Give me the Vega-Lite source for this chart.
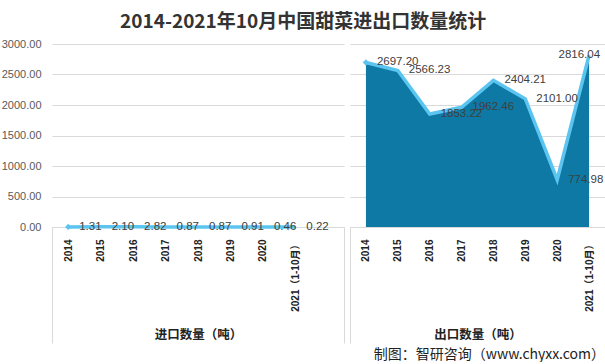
{
  "$schema": "https://vega.github.io/schema/vega-lite/v6.json",
  "background": "white",
  "padding": {"left": 1, "top": 13, "right": 0, "bottom": 0},
  "title": {
    "text": "2014-2021年10月中国甜菜进出口数量统计",
    "font": "Noto Sans CJK SC",
    "fontSize": 19,
    "fontWeight": "bold",
    "color": "#333333",
    "anchor": "middle",
    "offset": 6
  },
  "config": {
    "view": {"stroke": null},
    "concat": {"spacing": 0},
    "font": "Liberation Sans"
  },
  "data": {
    "values": [
      {"group": "进口", "year": "2014", "value": 1.31},
      {"group": "进口", "year": "2015", "value": 2.10},
      {"group": "进口", "year": "2016", "value": 2.82},
      {"group": "进口", "year": "2017", "value": 0.87},
      {"group": "进口", "year": "2018", "value": 0.87},
      {"group": "进口", "year": "2019", "value": 0.91},
      {"group": "进口", "year": "2020", "value": 0.46},
      {"group": "进口", "year": "2021（1-10月）", "value": 0.22},
      {"group": "出口", "year": "2014", "value": 2697.20},
      {"group": "出口", "year": "2015", "value": 2566.23},
      {"group": "出口", "year": "2016", "value": 1853.22},
      {"group": "出口", "year": "2017", "value": 1962.46},
      {"group": "出口", "year": "2018", "value": 2404.21},
      {"group": "出口", "year": "2019", "value": 2101.00},
      {"group": "出口", "year": "2020", "value": 774.98},
      {"group": "出口", "year": "2021（1-10月）", "value": 2816.04}
    ]
  },
  "hconcat": [
    {
      "width": 292,
      "height": 183,
      "transform": [{"filter": "datum.group == '进口'"}],
      "encoding": {
        "x": {
          "field": "year",
          "type": "ordinal",
          "bandPosition": 0.5,
          "scale": {"type": "band", "domain": ["2014", "2015", "2016", "2017", "2018", "2019", "2020", "2021（1-10月）", " "], "paddingInner": 0, "paddingOuter": 0},
          "axis": {
            "title": "进口数量（吨）",
            "titleFont": "Noto Sans CJK SC",
            "titleFontSize": 12.5,
            "titleFontWeight": "bold",
            "titleColor": "#222222",
            "titlePadding": -15,
            "labelAngle": -90,
            "labelAlign": "right",
            "labelBaseline": "middle",
            "labelFont": "Liberation Sans, Noto Sans CJK SC",
            "labelFontWeight": "bold",
            "labelFontSize": 10,
            "labelColor": "#222222",
            "labelPadding": -104,
            "domainColor": "#d9d9d9",
            "tickBand": "extent",
            "tickSize": 116,
            "tickColor": "#d9d9d9",
            "tickOpacity": {"condition": {"test": "!isValid(datum.value) || datum.value == ' '", "value": 1}, "value": 0},
            "grid": false
          }
        },
        "y": {
          "field": "value",
          "type": "quantitative",
          "scale": {"domain": [0, 3000]},
          "axis": {
            "title": null,
            "tickCount": 6,
            "format": ".2f",
            "labelFontSize": 11,
            "labelColor": "#595959",
            "labelPadding": 11,
            "domain": false,
            "ticks": false,
            "grid": true,
            "gridColor": "#d9d9d9"
          }
        }
      },
      "layer": [
        {"mark": {"type": "area", "color": "#0e79a5", "opacity": 1}},
        {"mark": {"type": "line", "color": "#5cc5ef", "strokeWidth": 3.5}},
        {
          "transform": [{"filter": "datum.year == '2014'"}],
          "mark": {"type": "point", "shape": "diamond", "filled": true, "color": "#5cc5ef", "size": 40, "opacity": 1}
        },
        {
          "mark": {"type": "text", "align": "left", "baseline": "middle", "dx": 11, "fontSize": 11.5, "color": "#404040"},
          "encoding": {"text": {"field": "value", "type": "quantitative", "format": ".2f"}}
        }
      ]
    },
    {
      "width": 255,
      "height": 183,
      "transform": [{"filter": "datum.group == '出口'"}],
      "title": {
        "text": "制图：智研咨询（www.chyxx.com）",
        "orient": "bottom",
        "anchor": "end",
        "font": "Noto Sans CJK SC",
        "fontSize": 14,
        "fontWeight": "normal",
        "color": "#222222",
        "offset": 4
      },
      "encoding": {
        "x": {
          "field": "year",
          "type": "ordinal",
          "bandPosition": 0.5,
          "scale": {"type": "band", "domain": ["2014", "2015", "2016", "2017", "2018", "2019", "2020", "2021（1-10月）"], "paddingInner": 0, "paddingOuter": 0},
          "axis": {
            "title": "出口数量（吨）",
            "titleFont": "Noto Sans CJK SC",
            "titleFontSize": 12.5,
            "titleFontWeight": "bold",
            "titleColor": "#222222",
            "titlePadding": -15,
            "labelAngle": -90,
            "labelAlign": "right",
            "labelBaseline": "middle",
            "labelFont": "Liberation Sans, Noto Sans CJK SC",
            "labelFontWeight": "bold",
            "labelFontSize": 10,
            "labelColor": "#222222",
            "labelPadding": -104,
            "domainColor": "#d9d9d9",
            "tickBand": "extent",
            "tickSize": 116,
            "tickColor": "#d9d9d9",
            "tickOpacity": {"condition": {"test": "!isValid(datum.value)", "value": 1}, "value": 0},
            "grid": false
          }
        },
        "y": {
          "field": "value",
          "type": "quantitative",
          "scale": {"domain": [0, 3000]},
          "axis": {
            "title": null,
            "tickCount": 6,
            "labels": false,
            "domain": false,
            "ticks": false,
            "grid": true,
            "gridColor": "#d9d9d9"
          }
        }
      },
      "layer": [
        {"mark": {"type": "area", "color": "#0e79a5", "opacity": 1}},
        {"mark": {"type": "line", "color": "#5cc5ef", "strokeWidth": 3.5}},
        {
          "transform": [{"filter": "datum.year == '2014'"}],
          "mark": {"type": "point", "shape": "diamond", "filled": true, "color": "#5cc5ef", "size": 40, "opacity": 1}
        },
        {
          "transform": [{"filter": "datum.year != '2021（1-10月）'"}],
          "mark": {"type": "text", "align": "left", "baseline": "middle", "dx": 11, "fontSize": 11.5, "color": "#404040"},
          "encoding": {"text": {"field": "value", "type": "quantitative", "format": ".2f"}}
        },
        {
          "transform": [{"filter": "datum.year == '2021（1-10月）'"}],
          "mark": {"type": "text", "align": "right", "baseline": "middle", "dx": 11, "fontSize": 11.5, "color": "#404040"},
          "encoding": {"text": {"field": "value", "type": "quantitative", "format": ".2f"}}
        }
      ]
    }
  ]
}
